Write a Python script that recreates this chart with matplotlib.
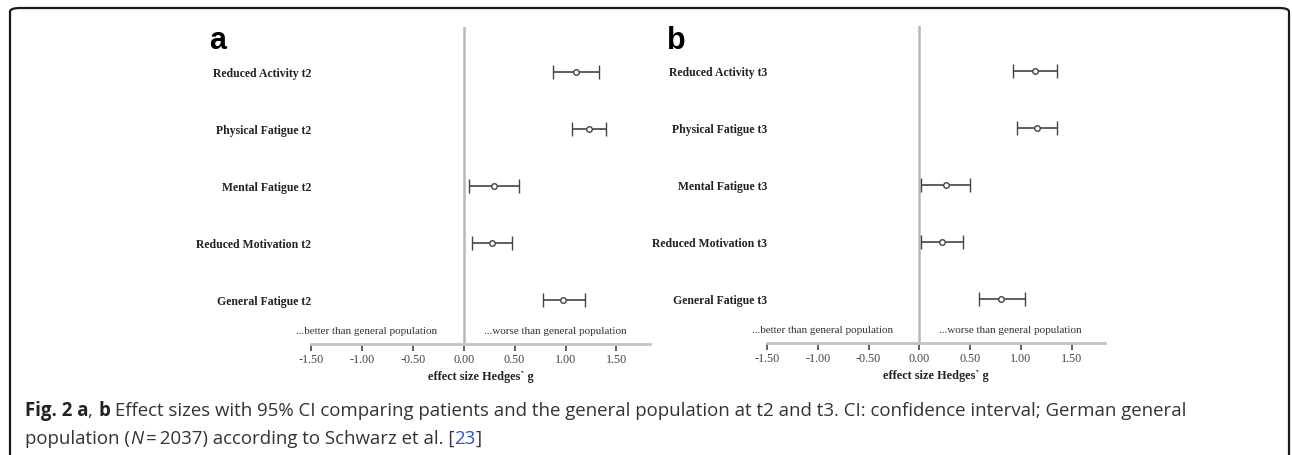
import matplotlib
matplotlib.use("Agg")
import matplotlib.pyplot as plt
from matplotlib.patches import FancyBboxPatch

# subscales, top to bottom
labels_a = ["Reduced Activity t2", "Physical Fatigue t2", "Mental Fatigue t2",
            "Reduced Motivation t2", "General Fatigue t2"]
labels_b = ["Reduced Activity t3", "Physical Fatigue t3", "Mental Fatigue t3",
            "Reduced Motivation t3", "General Fatigue t3"]

# Hedges' g with 95% CI
est_a = [1.10, 1.23, 0.30, 0.28, 0.98]
lo_a = [0.88, 1.06, 0.05, 0.08, 0.78]
hi_a = [1.33, 1.40, 0.54, 0.47, 1.19]

est_b = [1.14, 1.16, 0.26, 0.22, 0.81]
lo_b = [0.92, 0.96, 0.02, 0.02, 0.59]
hi_b = [1.36, 1.36, 0.50, 0.43, 1.04]

xticks = [-1.5, -1.0, -0.5, 0.0, 0.5, 1.0, 1.5]

W, H = 1292, 455
fig = plt.figure(figsize=(W / 100, H / 100), dpi=100)

serif = "Liberation Serif"


def forest(ax, labels, est, lo, hi):
    ys = list(range(len(labels)))
    xerr = [[e - l for e, l in zip(est, lo)], [h - e for e, h in zip(est, hi)]]
    ax.errorbar(est, ys, xerr=xerr, fmt="o", ms=4, mfc="white", mec="#444444",
                mew=1.0, ecolor="#444444", elinewidth=1.2, capsize=4.7,
                capthick=1.2, zorder=3)
    ax.axvline(0, color="#b8b8b8", lw=1.8, zorder=1)
    ax.set_xlim(-1.5, 1.83)
    ax.set_ylim(4.77, -0.79)
    ax.set_yticks(ys)
    ax.set_yticklabels(labels, fontfamily=serif, fontweight="bold",
                       fontsize=8.5, color="#222222")
    ax.tick_params(axis="y", length=0, pad=0)
    ax.set_xticks(xticks)
    ax.set_xticklabels(["%.2f" % t for t in xticks], fontfamily=serif,
                       fontsize=8.7, color="#444444")
    ax.tick_params(axis="x", direction="out", length=5, width=1.3,
                   color="#555555", pad=2)
    for s in ["top", "right", "left"]:
        ax.spines[s].set_visible(False)
    ax.spines["bottom"].set_color("#c4c4c4")
    ax.spines["bottom"].set_linewidth(2)
    ax.set_xlabel("effect size Hedges` g", fontfamily=serif, fontweight="bold",
                  fontsize=8.8, color="#222222", labelpad=4)
    tr = ax.get_xaxis_transform()
    ax.text(-0.95, 0.041, "...better than general population", transform=tr,
            ha="center", va="center", fontfamily=serif, fontsize=8,
            color="#333333")
    ax.text(0.90, 0.041, "...worse than general population", transform=tr,
            ha="center", va="center", fontfamily=serif, fontsize=8,
            color="#333333")


ax_a = fig.add_axes([311 / W, 1 - 344 / H, 339 / W, 317 / H])
ax_b = fig.add_axes([767 / W, 1 - 343 / H, 338 / W, 317 / H])
forest(ax_a, labels_a, est_a, lo_a, hi_a)
forest(ax_b, labels_b, est_b, lo_b, hi_b)

fig.text(209 / W, 1 - 41 / H, "a", fontfamily="Liberation Sans",
         fontweight="bold", fontsize=22, ha="left", va="center")
fig.text(667 / W, 1 - 41 / H, "b", fontfamily="Liberation Sans",
         fontweight="bold", fontsize=22, ha="left", va="center")

# rounded frame
frame = FancyBboxPatch((10 / W, -10 / H), 1279 / W, 1 - 8 / H + 10 / H,
                       boxstyle="round,pad=0,rounding_size=0.008",
                       transform=fig.transFigure, fill=False,
                       ec="#1a1a1a", lw=1.6, clip_on=False)
fig.add_artist(frame)

# caption, drawn piece by piece
renderer = fig.canvas.get_renderer()
cap_font = "Open Sans"
cap_size = 13.4


def caption_line(parts, x0, y0):
    x = x0
    for txt, weight, style, color in parts:
        t = fig.text(x / W, 1 - y0 / H, txt, fontfamily=cap_font,
                     fontsize=cap_size, fontweight=weight, fontstyle=style,
                     color=color, ha="left", va="baseline")
        bb = t.get_window_extent(renderer=renderer)
        x += bb.width


dark = "#333333"
caption_line([("Fig. 2 a", "bold", "normal", "#222222"),
              (", ", "normal", "normal", dark),
              ("b", "bold", "normal", "#222222"),
              (" Effect sizes with 95% CI comparing patients and the general "
               "population at t2 and t3. CI: confidence interval; German general",
               "normal", "normal", dark)], 25, 416)
caption_line([("population (", "normal", "normal", dark),
              ("N", "normal", "italic", dark),
              ("\u2009=\u20092037) according to Schwarz et al. [", "normal",
               "normal", dark),
              ("23", "normal", "normal", "#2b50d8"),
              ("]", "normal", "normal", dark)], 25, 444)

fig.savefig("out.png", dpi=100)
